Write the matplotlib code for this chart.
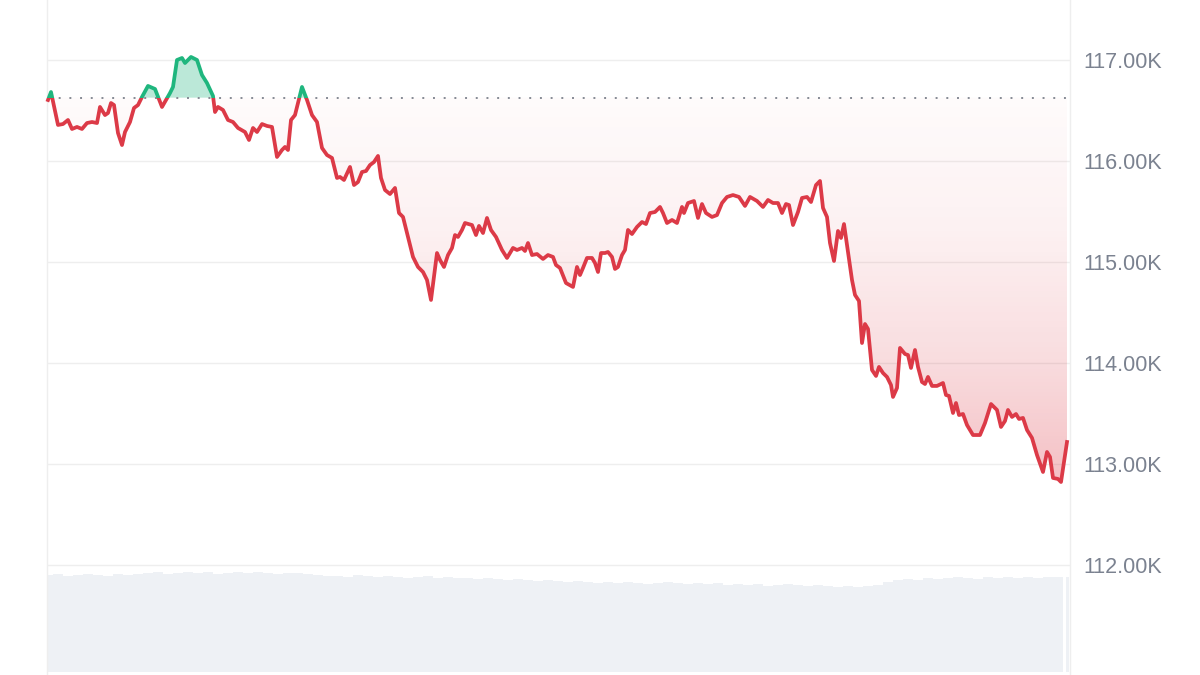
import numpy as np
import matplotlib.pyplot as plt
from matplotlib.colors import LinearSegmentedColormap
from matplotlib.patches import PathPatch, Rectangle
from matplotlib.path import Path

# minutes since the session opened and price in USD
minutes = [
    0, 3, 10, 15, 20, 24, 29, 34, 39, 44,
    49, 52, 57, 60, 63, 66, 70, 74, 77, 82,
    86, 90, 94, 100, 107, 114, 122, 125, 129, 134,
    137, 143, 149, 154, 159, 165, 167, 170, 175, 180,
    185, 190, 197, 201, 205, 209, 214, 219, 224, 229,
    234, 237, 240, 243, 247, 254,
    259, 264, 269, 274, 279, 284, 289, 292, 296, 302,
    306, 310, 314, 318, 322, 326, 330, 333, 337, 342,
    347, 351, 355, 360, 365, 370, 375, 379, 383, 389,
    392, 396, 400, 404, 407, 410, 414, 417, 424, 428,
    431, 435, 439, 443, 448, 454, 459, 465, 469, 474,
    477, 480, 484, 489,
    495, 500, 505, 508, 512, 518, 525, 529, 532, 535,
    539, 544, 547, 550, 553, 557, 560, 564, 567, 570,
    574, 577, 580, 584, 589, 594, 598, 602, 607, 612,
    615, 619, 624, 629, 634, 636, 640, 646, 650, 654,
    658, 664, 669, 674, 679, 685, 691, 697, 702, 709,
    715, 720, 725, 730, 734, 738, 741, 745, 750, 754,
    759, 763, 768, 772,
    775, 779, 782, 786, 790, 793, 796, 800, 804, 807,
    811, 814, 817, 820, 824, 828, 831, 835, 839, 843,
    845, 849, 852, 857, 860, 863, 867, 870, 874, 877,
    880, 884, 889, 895, 898, 901, 905, 908, 911, 915,
    919, 925, 932, 937, 943, 949, 953, 957, 960, 964,
    968, 971, 975, 979, 984, 989, 995, 999, 1002, 1005,
    1010, 1013, 1019,
]
price = [
    116604, 116683, 116357, 116366, 116406, 116317, 116337, 116317, 116376, 116386,
    116376, 116535, 116455, 116475, 116574, 116554, 116277, 116158, 116287, 116386,
    116525, 116554, 116634, 116743, 116713, 116535, 116673, 116733, 117000, 117020,
    116970, 117030, 117000, 116851, 116772, 116644, 116485, 116535, 116505, 116406,
    116386, 116327, 116287, 116208, 116327, 116287, 116366, 116347, 116337, 116040,
    116109, 116139, 116109, 116406, 116455, 116733,
    116604, 116455, 116386, 116129, 116059, 116030, 115832, 115842, 115812, 115941,
    115762, 115792, 115891, 115901, 115960, 115990, 116050, 115832, 115713, 115673,
    115733, 115485, 115446, 115248, 115050, 114951, 114901, 114822, 114624, 115089,
    115020, 114951, 115069, 115139, 115267, 115248, 115317, 115386, 115366, 115267,
    115357, 115287, 115436, 115317, 115248, 115119, 115040, 115139, 115119, 115139,
    115109, 115188, 115069, 115079,
    115030, 115069, 115050, 114970, 114941, 114792, 114753, 114951, 114871, 114941,
    115040, 115040, 114990, 114901, 115089, 115089, 115099, 115050, 114931, 114951,
    115069, 115119, 115317, 115277, 115347, 115396, 115376, 115485, 115495, 115545,
    115485, 115386, 115416, 115386, 115545, 115485, 115584, 115604, 115436, 115574,
    115485, 115446, 115465, 115584, 115644, 115663, 115644, 115555, 115644, 115604,
    115545, 115614, 115584, 115584, 115485, 115574, 115564, 115366, 115495, 115634,
    115644, 115594, 115762, 115802,
    115535, 115446, 115188, 115010, 115307, 115238, 115376, 115099, 114822, 114674,
    114614, 114198, 114386, 114337, 113931, 113872, 113961, 113901, 113862, 113782,
    113664, 113753, 114149, 114089, 114079, 113951, 114129, 113961, 113812, 113792,
    113862, 113773, 113773, 113802, 113683, 113674, 113505, 113604, 113485, 113495,
    113386, 113287, 113287, 113406, 113594, 113535, 113367, 113426, 113535, 113466,
    113495, 113446, 113456, 113337, 113258, 113089, 112921, 113119, 113070, 112862,
    112852, 112822, 113218,
]
open_price = 116627

# volume per 10-minute bucket (relative), last one is the partial bucket
volume = [
    97, 98, 96, 97, 98, 97, 96, 98, 97, 98,
    99, 100, 98, 99, 100, 99, 100, 98, 99, 100, 99, 100, 99, 98, 99, 99, 98, 97,
    96, 96, 95, 97, 96, 95, 96, 95, 94, 95, 96, 94, 95, 94,
    94, 93, 94, 93, 92, 93, 92, 91, 92,
    91, 90, 91, 90, 89, 90, 89, 90, 89, 88, 89, 90, 89, 88,
    89, 88, 89, 87, 88, 87, 88, 86, 87, 88, 87, 86, 87, 86, 85, 86,
    85, 86, 87,
    90, 92, 93, 92, 94, 93, 94, 95, 94, 93, 95, 94, 95, 94, 95, 94, 95, 95,
]
last_volume = 95

tick_values = [112000, 113000, 114000, 115000, 116000, 117000]
tick_labels = ["112.00K", "113.00K", "114.00K", "115.00K", "116.00K", "117.00K"]

RED = "#dc3a47"
GREEN = "#1fb67e"
GRID = "#eeeeee"

t = np.array(minutes)
p = np.array(price)

fig = plt.figure(figsize=(12, 6.75), dpi=100)

# volume strip at the bottom
vax = fig.add_axes([47 / 1200, 3 / 675, 1023 / 1200, 107 / 675])
vt = np.arange(len(volume)) * 10
vax.bar(vt, volume, width=9.2, color="#eef1f5", linewidth=0)
vax.bar([1019], [last_volume], width=3, color="#eef1f5", linewidth=0)
vax.set_xlim(-1, 1022)
vax.set_ylim(0, 107)
vax.axis("off")

ax = fig.add_axes([47 / 1200, 0, 1023 / 1200, 1])
ax.patch.set_alpha(0)

# red gradient between price and open, below the open
low = p.min()
fade = LinearSegmentedColormap.from_list("fade", [
    (0.87, 0.23, 0.28, 0.32),
    (0.87, 0.23, 0.28, 0.17),
    (0.87, 0.23, 0.28, 0.07),
    (0.87, 0.23, 0.28, 0.02),
])
grad = np.linspace(0, 1, 256).reshape(-1, 1)
im = ax.imshow(grad, cmap=fade, origin="lower", aspect="auto",
               extent=[t[0], t[-1], low, open_price], zorder=1)
verts = [(t[0], open_price)] + list(zip(t, np.minimum(p, open_price))) + [(t[-1], open_price)]
clip = PathPatch(Path(verts), transform=ax.transData, facecolor="none", edgecolor="none")
ax.add_patch(clip)
im.set_clip_path(clip)

# green fill above the open
ax.fill_between(t, p, open_price, where=p >= open_price, interpolate=True,
                color=GREEN, alpha=0.3, linewidth=0, zorder=1)

ax.hlines(open_price, t[0], t[-1], colors="#858a94", linestyles=(0, (1, 4.5)),
          linewidth=1.4, zorder=2)

red_line, = ax.plot(t, p, color=RED, lw=2.7, solid_joinstyle="round", zorder=3)
red_line.set_clip_path(Rectangle((-50, 100000), 1200, open_price - 100000,
                                 transform=ax.transData))
green_line, = ax.plot(t, p, color=GREEN, lw=2.7, solid_joinstyle="round", zorder=3)
green_line.set_clip_path(Rectangle((-50, open_price), 1200, 10000,
                                   transform=ax.transData))

ax.set_xlim(-1, 1022)
ax.set_ylim(110911, 117594)
ax.set_xticks([])
ax.set_yticks(tick_values)
ax.set_yticklabels(tick_labels, fontfamily="Liberation Sans")
ax.yaxis.tick_right()
ax.tick_params(axis="y", length=0, pad=9.5, labelsize=15.5, labelcolor="#7b8290")
ax.yaxis.grid(True, color=GRID, lw=1)
ax.set_axisbelow(True)

for side in ["top", "bottom"]:
    ax.spines[side].set_visible(False)
for side in ["left", "right"]:
    ax.spines[side].set_color(GRID)
    ax.spines[side].set_linewidth(1)

fig.savefig("out.png", dpi=100)
